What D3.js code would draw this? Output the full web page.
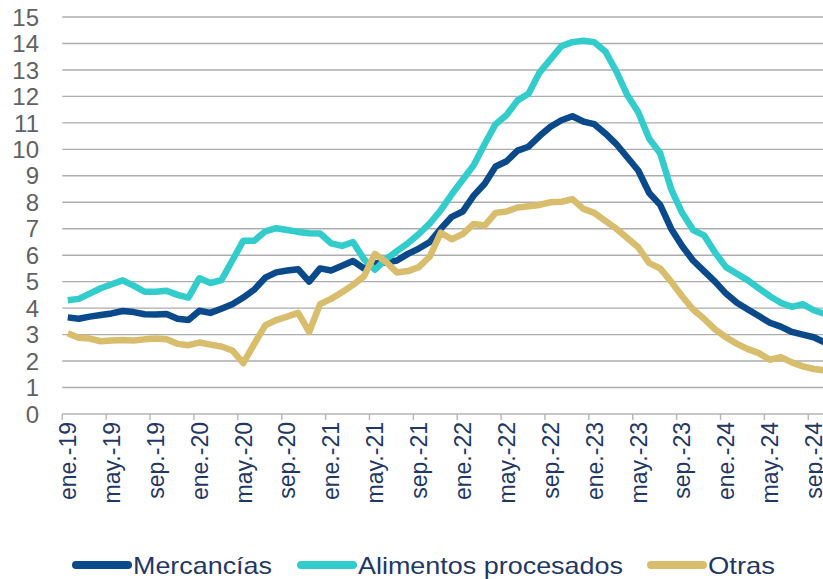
<!DOCTYPE html>
<html>
<head>
<meta charset="utf-8">
<script src="https://cdn.jsdelivr.net/npm/d3@7"></script>
<style>
  body { margin: 0; background: #fff; }
  text { font-family: "Liberation Sans", Arial, sans-serif; }
</style>
</head>
<body>
<div id="chart"></div>
<script>
const svgWidth = 823;
const svgHeight = 579;

// month names and years (ene.-19 ... oct.-24)
const monthNames = ["ene.", "feb.", "mar.", "abr.", "may.", "jun.", "jul.", "ago.", "sep.", "oct.", "nov.", "dic."];
const years = ["19", "20", "21", "22", "23", "24"];
const nMonths = 70;

const mercancias = [
  3.65, 3.6, 3.68, 3.74, 3.8, 3.89, 3.85, 3.77, 3.76, 3.78, 3.6, 3.55,
  3.9, 3.82, 3.98, 4.15, 4.4, 4.7, 5.15, 5.35, 5.42, 5.47, 5.0, 5.5,
  5.42, 5.6, 5.78, 5.5, 5.7, 5.72, 5.8, 6.05, 6.25, 6.5, 7.0, 7.45,
  7.65, 8.25, 8.7, 9.35, 9.55, 9.95, 10.1, 10.5, 10.85, 11.1, 11.25, 11.05,
  10.95, 10.6, 10.2, 9.7, 9.2, 8.35, 7.9, 7.0, 6.35, 5.8, 5.4, 5.0,
  4.55, 4.2, 3.95, 3.7, 3.45, 3.3, 3.1, 3.0, 2.9, 2.7
];
const alimentos = [
  4.3, 4.35, 4.55, 4.75, 4.9, 5.05, 4.85, 4.62, 4.62, 4.66, 4.5, 4.4,
  5.13, 4.95, 5.06, 5.8, 6.55, 6.55, 6.9, 7.02, 6.95, 6.88, 6.83, 6.82,
  6.45, 6.35, 6.5, 5.85, 5.45, 5.85, 6.15, 6.45, 6.8, 7.2, 7.7, 8.3,
  8.85, 9.4, 10.2, 10.95, 11.3, 11.85, 12.1, 12.9, 13.4, 13.9, 14.05, 14.1,
  14.05, 13.7, 12.95, 12.05, 11.4, 10.4, 9.85, 8.5, 7.6, 6.95, 6.75, 6.1,
  5.55, 5.3, 5.05, 4.75, 4.45, 4.2, 4.05, 4.15, 3.92, 3.78
];
const otras = [
  3.05, 2.88, 2.85, 2.75, 2.78, 2.8, 2.78, 2.82, 2.85, 2.82, 2.65, 2.6,
  2.7, 2.62, 2.55, 2.4, 1.92, 2.65, 3.35, 3.55, 3.68, 3.82, 3.1, 4.15,
  4.35, 4.6, 4.88, 5.2, 6.05, 5.75, 5.35, 5.4, 5.55, 5.95, 6.85, 6.6,
  6.8, 7.18, 7.12, 7.6, 7.65, 7.8, 7.85, 7.9, 8.0, 8.02, 8.12, 7.75,
  7.6, 7.3, 7.0, 6.65, 6.3, 5.7, 5.5, 5.0, 4.45, 3.95, 3.6, 3.2,
  2.9, 2.65, 2.45, 2.3, 2.05, 2.15, 1.95, 1.8, 1.7, 1.65
];
const yTicks = [0, 1, 2, 3, 4, 5, 6, 7, 8, 9, 10, 11, 12, 13, 14, 15];

const categories = years.flatMap(y => monthNames.map(m => m + "-" + y)).slice(0, nMonths);

const series = [
  { name: "Mercancías", values: mercancias, color: "#0b4a8a" },
  { name: "Alimentos procesados", values: alimentos, color: "#33cccc" },
  { name: "Otras", values: otras, color: "#d8bd6c" }
];

var svg = d3.select("#chart")
  .append("svg")
  .attr("width", svgWidth)
  .attr("height", svgHeight);

const plotLeft = 62.3, plotBottom = 414, plotTop = 17;
const step = 10.97;

var xScale = d3.scaleBand()
  .domain(categories)
  .range([plotLeft, plotLeft + step * nMonths]);
var yScale = d3.scaleLinear()
  .domain([0, 15])
  .range([plotBottom, plotTop]);

// gridlines
svg.append("g")
  .selectAll("line")
  .data(yTicks.filter(d => d > 0))
  .enter()
  .append("line")
  .attr("x1", plotLeft)
  .attr("x2", svgWidth)
  .attr("y1", d => yScale(d))
  .attr("y2", d => yScale(d))
  .style("stroke", "#adadad")
  .style("stroke-width", 1.4);

// y labels
svg.append("g")
  .selectAll("text")
  .data(yTicks)
  .enter()
  .append("text")
  .attr("x", 39)
  .attr("y", d => yScale(d))
  .attr("dy", "0.36em")
  .attr("text-anchor", "end")
  .style("font-size", "24px")
  .style("fill", "#626262")
  .text(d => d);

// x axis
var xAxis = d3.axisBottom(xScale)
  .tickValues(categories.filter((d, i) => i % 4 === 0))
  .tickSize(0)
  .tickFormat("");
var gx = svg.append("g")
  .attr("transform", `translate(0,${plotBottom})`)
  .call(xAxis);
gx.select(".domain").remove();
gx.append("line")
  .attr("x1", plotLeft).attr("x2", svgWidth)
  .style("stroke", "#b5b5b5").style("stroke-width", 1.4);
gx.selectAll(".tickmark")
  .data(categories.filter((d, i) => i % 4 === 0))
  .enter()
  .append("line")
  .attr("x1", d => xScale(d)).attr("x2", d => xScale(d))
  .attr("y1", 0).attr("y2", 6)
  .style("stroke", "#b5b5b5").style("stroke-width", 1.4);

svg.append("g")
  .selectAll("text")
  .data(categories.filter((d, i) => i % 4 === 0))
  .enter()
  .append("text")
  .attr("transform", d => `translate(${xScale(d) + xScale.bandwidth() / 2},${plotBottom + 8}) rotate(-90)`)
  .attr("dy", "0.36em")
  .attr("text-anchor", "end")
  .style("font-size", "23px")
  .style("fill", "#1f3864")
  .text(d => d);

// lines
var line = d3.line()
  .x((d, i) => xScale(categories[i]) + xScale.bandwidth() / 2)
  .y(d => yScale(d));

svg.append("g")
  .selectAll("path")
  .data(series)
  .enter()
  .append("path")
  .attr("d", d => line(d.values))
  .style("fill", "none")
  .style("stroke", d => d.color)
  .style("stroke-width", 6.5)
  .style("stroke-linejoin", "round");

// legend
const legendX = [76, 301, 651];
const legendTextW = [139, 265, 67];
var legend = svg.append("g")
  .selectAll("g")
  .data(series)
  .enter()
  .append("g")
  .attr("transform", (d, i) => `translate(${legendX[i]},565)`);
legend.append("line")
  .attr("x1", 0).attr("x2", 52)
  .style("stroke", d => d.color)
  .style("stroke-width", 8)
  .style("stroke-linecap", "round");
legend.append("text")
  .attr("x", 57)
  .attr("dy", "0.36em")
  .attr("textLength", (d, i) => legendTextW[i])
  .attr("lengthAdjust", "spacingAndGlyphs")
  .style("font-size", "24px")
  .style("fill", "#1f3864")
  .text(d => d.name);
</script>
</body>
</html>
